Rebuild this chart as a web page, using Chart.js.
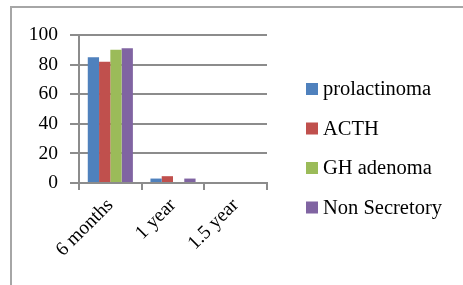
<!DOCTYPE html>
<html>
<head>
<meta charset="utf-8">
<script src="https://cdn.jsdelivr.net/npm/chart.js@4/dist/chart.umd.min.js"></script>
<style>
  html, body { margin: 0; padding: 0; background: #fff; }
  #wrap { position: relative; width: 463px; height: 285px; overflow: hidden; }
  #frame { position: absolute; left: 10px; top: 6px; width: 470px; height: 300px; border: 2px solid #a6a6a6; box-sizing: border-box; }
  canvas { position: absolute; left: 0; top: 0; }
</style>
</head>
<body>
<div id="wrap">
  <div id="frame"></div>
  <canvas id="myChart" width="463" height="285"></canvas>
</div>
<script>
var labels = ["6 months", "1 year", "1.5 year"];
var seriesNames = ["prolactinoma", "ACTH", "GH adenoma", "Non Secretory"];
var prolactinoma = [85, 3, 0];
var acth = [82, 4.6, 0];
var ghAdenoma = [90, 0, 0];
var nonSecretory = [91, 3, 0];
var colors = ["#4F81BD", "#C0504D", "#9BBB59", "#8064A2"];

var FONT = "'Liberation Serif', 'Times New Roman', serif";

// legend drawn by hand so it sits where the original one does
var sideLegend = {
  id: "sideLegend",
  afterDraw: function (chart) {
    var ctx = chart.ctx;
    ctx.save();
    ctx.font = "20.5px " + FONT;
    ctx.textBaseline = "middle";
    chart.data.datasets.forEach(function (ds, i) {
      var y = 89 + i * 39.5;
      ctx.fillStyle = ds.backgroundColor;
      ctx.fillRect(306, y - 6, 12, 12);
      ctx.fillStyle = "#000";
      ctx.fillText(ds.label, 323, y + 1);
    });
    ctx.restore();
  }
};

new Chart("myChart", {
  type: "bar",
  data: {
    labels: labels,
    datasets: [
      { label: seriesNames[0], data: prolactinoma, backgroundColor: colors[0] },
      { label: seriesNames[1], data: acth, backgroundColor: colors[1] },
      { label: seriesNames[2], data: ghAdenoma, backgroundColor: colors[2] },
      { label: seriesNames[3], data: nonSecretory, backgroundColor: colors[3] }
    ]
  },
  options: {
    responsive: false,
    animation: false,
    layout: { padding: { left: 0, top: 35, right: 196, bottom: 0 } },
    datasets: {
      bar: { categoryPercentage: 0.72, barPercentage: 1 }
    },
    plugins: {
      legend: { display: false },
      tooltip: { enabled: false }
    },
    scales: {
      x: {
        offset: true,
        grid: { offset: true, drawOnChartArea: false, drawTicks: true, tickLength: 7, color: "#8c8c8c", lineWidth: 2 },
        border: { color: "#8c8c8c", width: 2 },
        ticks: { color: "#000", font: { family: FONT, size: 19.5 }, minRotation: 45, maxRotation: 45, padding: 4 },
        afterFit: function (s) { s.height = 102; }
      },
      y: {
        min: 0,
        max: 100,
        grid: { color: "#8c8c8c", lineWidth: 2, tickLength: 9 },
        border: { color: "#8c8c8c", width: 2 },
        ticks: { stepSize: 20, color: "#000", font: { family: FONT, size: 19.5 }, padding: 12 },
        afterFit: function (s) { s.width = 79; }
      }
    }
  },
  plugins: [sideLegend]
});
</script>
</body>
</html>
